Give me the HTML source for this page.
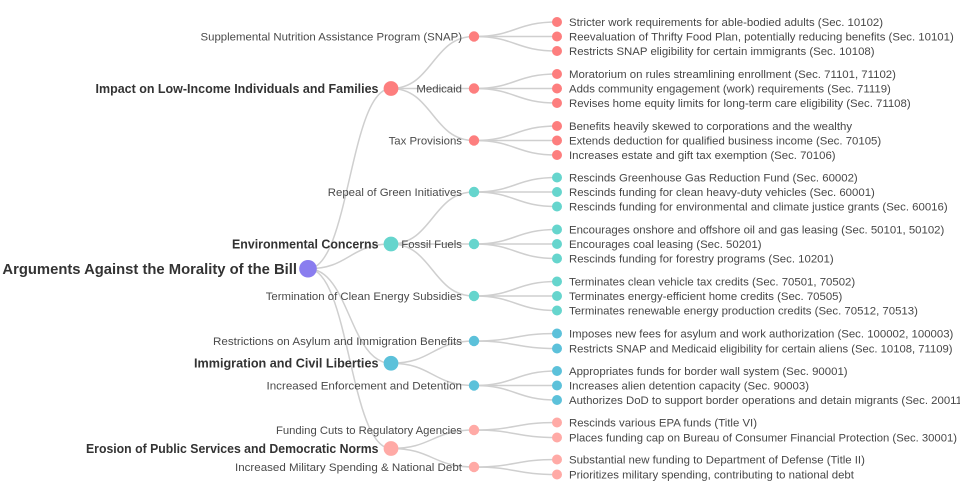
<!DOCTYPE html>
<html>
<head>
<meta charset="utf-8">
<style>
html,body{margin:0;padding:0;background:#fff;}
svg{display:block;}
text{font-family:"Liberation Sans",Arial,sans-serif;}
.lk{fill:none;stroke:#cfcfcf;stroke-width:1.5;}
.l3{font-size:11.4px;fill:#474747;}
.l2{font-size:11.4px;fill:#4a4a4a;}
.l1{font-size:12.5px;font-weight:bold;fill:#333;}
.l0{font-size:14.8px;font-weight:bold;fill:#333;}
</style>
</head>
<body>
<svg width="960" height="500" viewBox="0 0 960 500" xmlns="http://www.w3.org/2000/svg">
<g>
<path class="lk" d="M308,268.75C349.5,268.75 349.5,88.5 391,88.5"/>
<path class="lk" d="M308,268.75C349.5,268.75 349.5,244 391,244"/>
<path class="lk" d="M308,268.75C349.5,268.75 349.5,363.25 391,363.25"/>
<path class="lk" d="M308,268.75C349.5,268.75 349.5,448.5 391,448.5"/>
<path class="lk" d="M391,88.5C432.5,88.5 432.5,36.5 474,36.5"/>
<path class="lk" d="M391,88.5C432.5,88.5 432.5,88.5 474,88.5"/>
<path class="lk" d="M391,88.5C432.5,88.5 432.5,140.5 474,140.5"/>
<path class="lk" d="M391,244C432.5,244 432.5,192 474,192"/>
<path class="lk" d="M391,244C432.5,244 432.5,244 474,244"/>
<path class="lk" d="M391,244C432.5,244 432.5,296 474,296"/>
<path class="lk" d="M391,363.25C432.5,363.25 432.5,341 474,341"/>
<path class="lk" d="M391,363.25C432.5,363.25 432.5,385.5 474,385.5"/>
<path class="lk" d="M391,448.5C432.5,448.5 432.5,430 474,430"/>
<path class="lk" d="M391,448.5C432.5,448.5 432.5,467 474,467"/>
<path class="lk" d="M474,36.5C515.5,36.5 515.5,22 557,22"/>
<path class="lk" d="M474,36.5C515.5,36.5 515.5,36.5 557,36.5"/>
<path class="lk" d="M474,36.5C515.5,36.5 515.5,51 557,51"/>
<path class="lk" d="M474,88.5C515.5,88.5 515.5,74 557,74"/>
<path class="lk" d="M474,88.5C515.5,88.5 515.5,88.5 557,88.5"/>
<path class="lk" d="M474,88.5C515.5,88.5 515.5,103 557,103"/>
<path class="lk" d="M474,140.5C515.5,140.5 515.5,126 557,126"/>
<path class="lk" d="M474,140.5C515.5,140.5 515.5,140.5 557,140.5"/>
<path class="lk" d="M474,140.5C515.5,140.5 515.5,155 557,155"/>
<path class="lk" d="M474,192C515.5,192 515.5,177.5 557,177.5"/>
<path class="lk" d="M474,192C515.5,192 515.5,192 557,192"/>
<path class="lk" d="M474,192C515.5,192 515.5,206.5 557,206.5"/>
<path class="lk" d="M474,244C515.5,244 515.5,229.5 557,229.5"/>
<path class="lk" d="M474,244C515.5,244 515.5,244 557,244"/>
<path class="lk" d="M474,244C515.5,244 515.5,258.5 557,258.5"/>
<path class="lk" d="M474,296C515.5,296 515.5,281.5 557,281.5"/>
<path class="lk" d="M474,296C515.5,296 515.5,296 557,296"/>
<path class="lk" d="M474,296C515.5,296 515.5,310.5 557,310.5"/>
<path class="lk" d="M474,341C515.5,341 515.5,333.5 557,333.5"/>
<path class="lk" d="M474,341C515.5,341 515.5,348.5 557,348.5"/>
<path class="lk" d="M474,385.5C515.5,385.5 515.5,371 557,371"/>
<path class="lk" d="M474,385.5C515.5,385.5 515.5,385.5 557,385.5"/>
<path class="lk" d="M474,385.5C515.5,385.5 515.5,400 557,400"/>
<path class="lk" d="M474,430C515.5,430 515.5,422.5 557,422.5"/>
<path class="lk" d="M474,430C515.5,430 515.5,437.5 557,437.5"/>
<path class="lk" d="M474,467C515.5,467 515.5,459.5 557,459.5"/>
<path class="lk" d="M474,467C515.5,467 515.5,474.5 557,474.5"/>
</g>

<circle cx="308" cy="268.75" r="8.8" fill="#8a7def"/>
<text class="l0" x="297" y="268.75" dy="0.35em" text-anchor="end">Arguments Against the Morality of the Bill</text>

<circle cx="391" cy="88.5" r="7.4" fill="#fd7e7e"/>
<text class="l1" x="378.5" y="88.5" dy="0.35em" text-anchor="end" textLength="283" lengthAdjust="spacingAndGlyphs">Impact on Low-Income Individuals and Families</text>
<circle cx="391" cy="244" r="7.4" fill="#66d5cd"/>
<text class="l1" x="378.5" y="244" dy="0.35em" text-anchor="end" textLength="146.5" lengthAdjust="spacingAndGlyphs">Environmental Concerns</text>
<circle cx="391" cy="363.25" r="7.4" fill="#5cc1da"/>
<text class="l1" x="378.5" y="363.25" dy="0.35em" text-anchor="end" textLength="184.5" lengthAdjust="spacingAndGlyphs">Immigration and Civil Liberties</text>
<circle cx="391" cy="448.5" r="7.4" fill="#ffaaa6"/>
<text class="l1" x="378.5" y="448.5" dy="0.35em" text-anchor="end" textLength="292.5" lengthAdjust="spacingAndGlyphs">Erosion of Public Services and Democratic Norms</text>

<g class="l2" text-anchor="end">
<circle cx="474" cy="36.5" r="5.2" fill="#fd7e7e"/>
<text x="462" y="36.5" dy="0.35em">Supplemental Nutrition Assistance Program (SNAP)</text>
<circle cx="474" cy="88.5" r="5.2" fill="#fd7e7e"/>
<text x="462" y="88.5" dy="0.35em">Medicaid</text>
<circle cx="474" cy="140.5" r="5.2" fill="#fd7e7e"/>
<text x="462" y="140.5" dy="0.35em">Tax Provisions</text>
<circle cx="474" cy="192" r="5.2" fill="#66d5cd"/>
<text x="462" y="192" dy="0.35em">Repeal of Green Initiatives</text>
<circle cx="474" cy="244" r="5.2" fill="#66d5cd"/>
<text x="462" y="244" dy="0.35em">Fossil Fuels</text>
<circle cx="474" cy="296" r="5.2" fill="#66d5cd"/>
<text x="462" y="296" dy="0.35em">Termination of Clean Energy Subsidies</text>
<circle cx="474" cy="341" r="5.2" fill="#5cc1da"/>
<text x="462" y="341" dy="0.35em" textLength="249" lengthAdjust="spacingAndGlyphs">Restrictions on Asylum and Immigration Benefits</text>
<circle cx="474" cy="385.5" r="5.2" fill="#5cc1da"/>
<text x="462" y="385.5" dy="0.35em" textLength="195.5" lengthAdjust="spacingAndGlyphs">Increased Enforcement and Detention</text>
<circle cx="474" cy="430" r="5.2" fill="#ffaaa6"/>
<text x="462" y="430" dy="0.35em" textLength="186" lengthAdjust="spacingAndGlyphs">Funding Cuts to Regulatory Agencies</text>
<circle cx="474" cy="467" r="5.2" fill="#ffaaa6"/>
<text x="462" y="467" dy="0.35em" textLength="227" lengthAdjust="spacingAndGlyphs">Increased Military Spending &amp; National Debt</text>
</g>

<g class="l3">
<circle cx="557" cy="22" r="5" fill="#fd7e7e"/><text x="569" y="22" dy="0.35em">Stricter work requirements for able-bodied adults (Sec. 10102)</text>
<circle cx="557" cy="36.5" r="5" fill="#fd7e7e"/><text x="569" y="36.5" dy="0.35em">Reevaluation of Thrifty Food Plan, potentially reducing benefits (Sec. 10101)</text>
<circle cx="557" cy="51" r="5" fill="#fd7e7e"/><text x="569" y="51" dy="0.35em">Restricts SNAP eligibility for certain immigrants (Sec. 10108)</text>

<circle cx="557" cy="74" r="5" fill="#fd7e7e"/><text x="569" y="74" dy="0.35em">Moratorium on rules streamlining enrollment (Sec. 71101, 71102)</text>
<circle cx="557" cy="88.5" r="5" fill="#fd7e7e"/><text x="569" y="88.5" dy="0.35em">Adds community engagement (work) requirements (Sec. 71119)</text>
<circle cx="557" cy="103" r="5" fill="#fd7e7e"/><text x="569" y="103" dy="0.35em">Revises home equity limits for long-term care eligibility (Sec. 71108)</text>

<circle cx="557" cy="126" r="5" fill="#fd7e7e"/><text x="569" y="126" dy="0.35em">Benefits heavily skewed to corporations and the wealthy</text>
<circle cx="557" cy="140.5" r="5" fill="#fd7e7e"/><text x="569" y="140.5" dy="0.35em">Extends deduction for qualified business income (Sec. 70105)</text>
<circle cx="557" cy="155" r="5" fill="#fd7e7e"/><text x="569" y="155" dy="0.35em">Increases estate and gift tax exemption (Sec. 70106)</text>

<circle cx="557" cy="177.5" r="5" fill="#66d5cd"/><text x="569" y="177.5" dy="0.35em">Rescinds Greenhouse Gas Reduction Fund (Sec. 60002)</text>
<circle cx="557" cy="192" r="5" fill="#66d5cd"/><text x="569" y="192" dy="0.35em">Rescinds funding for clean heavy-duty vehicles (Sec. 60001)</text>
<circle cx="557" cy="206.5" r="5" fill="#66d5cd"/><text x="569" y="206.5" dy="0.35em">Rescinds funding for environmental and climate justice grants (Sec. 60016)</text>

<circle cx="557" cy="229.5" r="5" fill="#66d5cd"/><text x="569" y="229.5" dy="0.35em">Encourages onshore and offshore oil and gas leasing (Sec. 50101, 50102)</text>
<circle cx="557" cy="244" r="5" fill="#66d5cd"/><text x="569" y="244" dy="0.35em">Encourages coal leasing (Sec. 50201)</text>
<circle cx="557" cy="258.5" r="5" fill="#66d5cd"/><text x="569" y="258.5" dy="0.35em">Rescinds funding for forestry programs (Sec. 10201)</text>

<circle cx="557" cy="281.5" r="5" fill="#66d5cd"/><text x="569" y="281.5" dy="0.35em">Terminates clean vehicle tax credits (Sec. 70501, 70502)</text>
<circle cx="557" cy="296" r="5" fill="#66d5cd"/><text x="569" y="296" dy="0.35em">Terminates energy-efficient home credits (Sec. 70505)</text>
<circle cx="557" cy="310.5" r="5" fill="#66d5cd"/><text x="569" y="310.5" dy="0.35em">Terminates renewable energy production credits (Sec. 70512, 70513)</text>

<circle cx="557" cy="333.5" r="5" fill="#5cc1da"/><text x="569" y="333.5" dy="0.35em">Imposes new fees for asylum and work authorization (Sec. 100002, 100003)</text>
<circle cx="557" cy="348.5" r="5" fill="#5cc1da"/><text x="569" y="348.5" dy="0.35em" textLength="383.5" lengthAdjust="spacingAndGlyphs">Restricts SNAP and Medicaid eligibility for certain aliens (Sec. 10108, 71109)</text>

<circle cx="557" cy="371" r="5" fill="#5cc1da"/><text x="569" y="371" dy="0.35em">Appropriates funds for border wall system (Sec. 90001)</text>
<circle cx="557" cy="385.5" r="5" fill="#5cc1da"/><text x="569" y="385.5" dy="0.35em">Increases alien detention capacity (Sec. 90003)</text>
<circle cx="557" cy="400" r="5" fill="#5cc1da"/><text x="569" y="400" dy="0.35em">Authorizes DoD to support border operations and detain migrants (Sec. 20011)</text>

<circle cx="557" cy="422.5" r="5" fill="#ffaaa6"/><text x="569" y="422.5" dy="0.35em">Rescinds various EPA funds (Title VI)</text>
<circle cx="557" cy="437.5" r="5" fill="#ffaaa6"/><text x="569" y="437.5" dy="0.35em" textLength="388" lengthAdjust="spacingAndGlyphs">Places funding cap on Bureau of Consumer Financial Protection (Sec. 30001)</text>

<circle cx="557" cy="459.5" r="5" fill="#ffaaa6"/><text x="569" y="459.5" dy="0.35em">Substantial new funding to Department of Defense (Title II)</text>
<circle cx="557" cy="474.5" r="5" fill="#ffaaa6"/><text x="569" y="474.5" dy="0.35em">Prioritizes military spending, contributing to national debt</text>
</g>
</svg>
</body>
</html>
